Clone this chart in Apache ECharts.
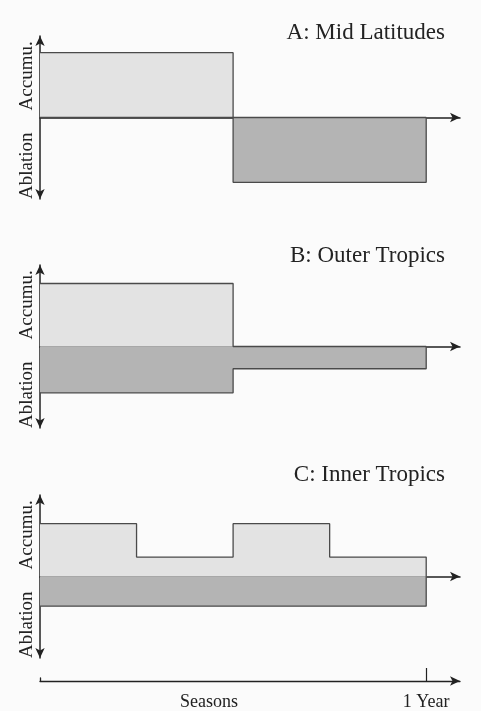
<!DOCTYPE html>
<html>
<head>
<meta charset="utf-8">
<script src="https://cdn.jsdelivr.net/npm/echarts@6/dist/echarts.min.js"></script>
<style>
html,body{margin:0;padding:0;background:#fbfbfb;}
#chart{width:481px;height:711px;}
</style>
</head>
<body>
<div id="chart"></div>
<script>
// Season quarter edges (0 .. 4 = one year)
const quarterEdges = [0, 1, 2, 3, 4];
// Panel titles
const panelTitles = ['A: Mid Latitudes', 'B: Outer Tropics', 'C: Inner Tropics'];
// Accumulation per quarter (relative units, positive)
const accumA = [3.5, 3.5, 0, 0];
const accumB = [3.4, 3.4, 0, 0];
const accumC = [2.85, 1.05, 2.85, 1.05];
// Ablation per quarter (relative units, magnitude; drawn below zero)
const ablationA = [0, 0, 3.5, 3.5];
const ablationB = [2.5, 2.5, 1.2, 1.2];
const ablationC = [1.6, 1.6, 1.6, 1.6];
// Axis texts
const yLabels = ['Accumu.', 'Ablation'];
const timeLabels = ['Seasons', '1 Year'];
const timeLabelPos = [1.75, 4];

const FONT = 'Liberation Serif';
const INK = '#222';
const accumulations = [accumA, accumB, accumC];
const ablations = [ablationA, ablationB, ablationC];

function stepData(vals, sign) {
  const pts = vals.map((v, i) => [quarterEdges[i], sign * v]);
  pts.push([quarterEdges[4], sign * vals[vals.length - 1]]);
  pts.push([quarterEdges[4], 0]);
  return pts;
}

const gridTops = [36, 265, 495];
const grids = gridTops.map(t => ({left: 40, width: 420, top: t, height: 163}));
grids.push({left: 40, width: 420, top: 678, height: 5});

const xAxes = [], yAxes = [], series = [], titles = [];
for (let i = 0; i < 3; i++) {
  xAxes.push({
    gridIndex: i, type: 'value', min: 0, max: 4.35,
    axisLine: {show: true, onZero: true, symbol: ['none', 'arrow'], symbolSize: [7, 10],
      lineStyle: {color: INK, width: 1.5}},
    axisTick: {show: false}, axisLabel: {show: false}, splitLine: {show: false}
  });
  yAxes.push({
    gridIndex: i, type: 'value', min: -4.4, max: 4.4,
    axisLine: {show: true, onZero: false, symbol: ['arrow', 'arrow'], symbolSize: [7, 10],
      lineStyle: {color: INK, width: 1.5}},
    axisTick: {show: false}, splitLine: {show: false},
    axisLabel: {
      show: true, rotate: 90, margin: 3, customValues: [2.25, -2.6],
      formatter: v => (v > 0 ? yLabels[0] : yLabels[1]),
      fontFamily: FONT, fontSize: 19, color: INK
    }
  });
  series.push({
    type: 'line', xAxisIndex: i, yAxisIndex: i, step: 'end', symbol: 'none', silent: true,
    data: stepData(accumulations[i], 1),
    lineStyle: {color: '#4a4a4a', width: 1.3},
    areaStyle: {color: '#e3e3e3', opacity: 1}, z: 1
  });
  series.push({
    type: 'line', xAxisIndex: i, yAxisIndex: i, step: 'end', symbol: 'none', silent: true,
    data: stepData(ablations[i], -1),
    lineStyle: {color: '#4a4a4a', width: 1.3},
    areaStyle: {color: '#b4b4b4', opacity: 1}, z: 1
  });
}
const titleTops = [21, 244, 463];
for (let i = 0; i < 3; i++) {
  titles.push({text: panelTitles[i], right: 36, top: titleTops[i], padding: 0,
    textStyle: {fontFamily: FONT, fontSize: 23, fontWeight: 'normal', color: INK}});
}

// Bottom time axis
xAxes.push({
  gridIndex: 3, type: 'value', min: 0, max: 4.35, position: 'bottom',
  axisLine: {show: true, onZero: false, symbol: ['none', 'arrow'], symbolSize: [7, 10],
    lineStyle: {color: INK, width: 1.3}},
  axisTick: {show: true, inside: true, length: 13, customValues: [4], lineStyle: {color: INK, width: 1.2}},
  axisLabel: {show: true, customValues: timeLabelPos, margin: 12,
    formatter: v => (v === 4 ? timeLabels[1] : timeLabels[0]),
    fontFamily: FONT, fontSize: 18, color: INK},
  splitLine: {show: false}
});
yAxes.push({
  gridIndex: 3, type: 'value', min: 0, max: 1,
  axisLine: {show: true, onZero: false, lineStyle: {color: INK, width: 1.3}},
  axisTick: {show: false}, axisLabel: {show: false}, splitLine: {show: false}
});

const chart = echarts.init(document.getElementById('chart'), null, {renderer: 'canvas'});
chart.setOption({
  backgroundColor: '#fbfbfb',
  animation: false,
  title: titles,
  grid: grids,
  xAxis: xAxes,
  yAxis: yAxes,
  series: series
});
</script>
</body>
</html>
